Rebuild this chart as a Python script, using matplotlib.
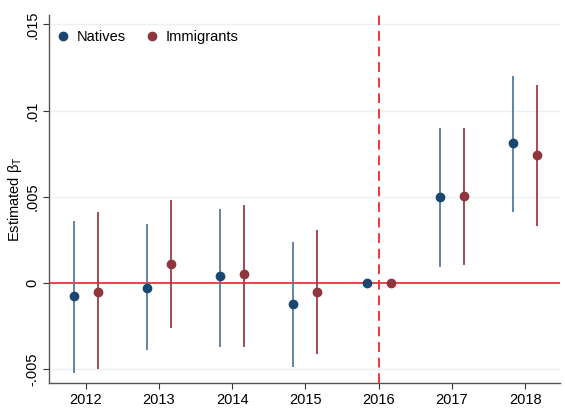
import matplotlib
matplotlib.use("Agg")
import matplotlib.pyplot as plt
import numpy as np

years = [2012, 2013, 2014, 2015, 2016, 2017, 2018]
natives_est = [-0.00075, -0.0003, 0.0004, -0.0012, 0.0, 0.00497, 0.0081]
natives_lo = [-0.0052, -0.0039, -0.0037, -0.0049, 0.0, 0.00095, 0.0041]
natives_hi = [0.0036, 0.0034, 0.0043, 0.0024, 0.0, 0.00897, 0.0120]
immig_est = [-0.0005, 0.0011, 0.0005, -0.0005, 0.0, 0.00505, 0.0074]
immig_lo = [-0.0050, -0.0026, -0.0037, -0.0041, 0.0, 0.00104, 0.0033]
immig_hi = [0.0041, 0.0048, 0.0045, 0.0031, 0.0, 0.0090, 0.0115]
yticks = [-0.005, 0, 0.005, 0.01, 0.015]
ytick_labels = ["-.005", "0", ".005", ".01", ".015"]

navy = "#1a476f"
navy_ci = "#56799a"
maroon = "#90353b"
maroon_ci = "#9c3d45"

plt.rcParams["mathtext.fontset"] = "custom"
plt.rcParams["mathtext.rm"] = "Liberation Sans"

fig = plt.figure(figsize=(5.65, 4.12), dpi=100)
ax = fig.add_axes([0.0867, 0.0704, 0.905, 0.8932])

yrs = np.array(years)
off = 0.165
for y in yticks:
    ax.axhline(y, color="#eaf2f3", lw=1.0, zorder=0)
ax.axhline(0, color="#e8282a", lw=1.2, zorder=1)
ax.axvline(2016, color="#f0353b", lw=1.4, ls=(0, (5, 3)), zorder=1)

ax.vlines(yrs - off, natives_lo, natives_hi, color=navy_ci, lw=1.3, zorder=2)
ax.vlines(yrs + off, immig_lo, immig_hi, color=maroon_ci, lw=1.3, zorder=2)
ax.plot(yrs - off, natives_est, "o", color=navy, ms=6.0, ls="none", zorder=3, label="Natives")
ax.plot(yrs + off, immig_est, "o", color=maroon, ms=6.0, ls="none", zorder=3, label="Immigrants")

ax.set_xlim(2011.5, 2018.48)
ax.set_ylim(-0.0058, 0.01555)
ax.set_xticks(years)
ax.set_xticklabels([str(y) for y in years], fontsize=10.5, family="Liberation Sans")
ax.set_yticks(yticks)
ax.set_yticklabels(ytick_labels, rotation=90, va="center", fontsize=10.5, family="Liberation Sans")
ax.tick_params(axis="both", length=4, color="#333333", width=0.8, pad=3)
ax.set_ylabel(r"Estimated β$_\mathrm{T}$", fontsize=10.5, family="Liberation Sans", labelpad=1)
for s in ["top", "right"]:
    ax.spines[s].set_visible(False)
for s in ["left", "bottom"]:
    ax.spines[s].set_color("#555555")
    ax.spines[s].set_linewidth(1.0)

leg = ax.legend(loc="upper left", ncol=2, frameon=False,
                prop={"family": "Liberation Sans", "size": 10.5},
                handletextpad=0.45, columnspacing=1.3, handlelength=1.0,
                bbox_to_anchor=(-0.013, 0.995))
fig.savefig("out.png", dpi=100)
